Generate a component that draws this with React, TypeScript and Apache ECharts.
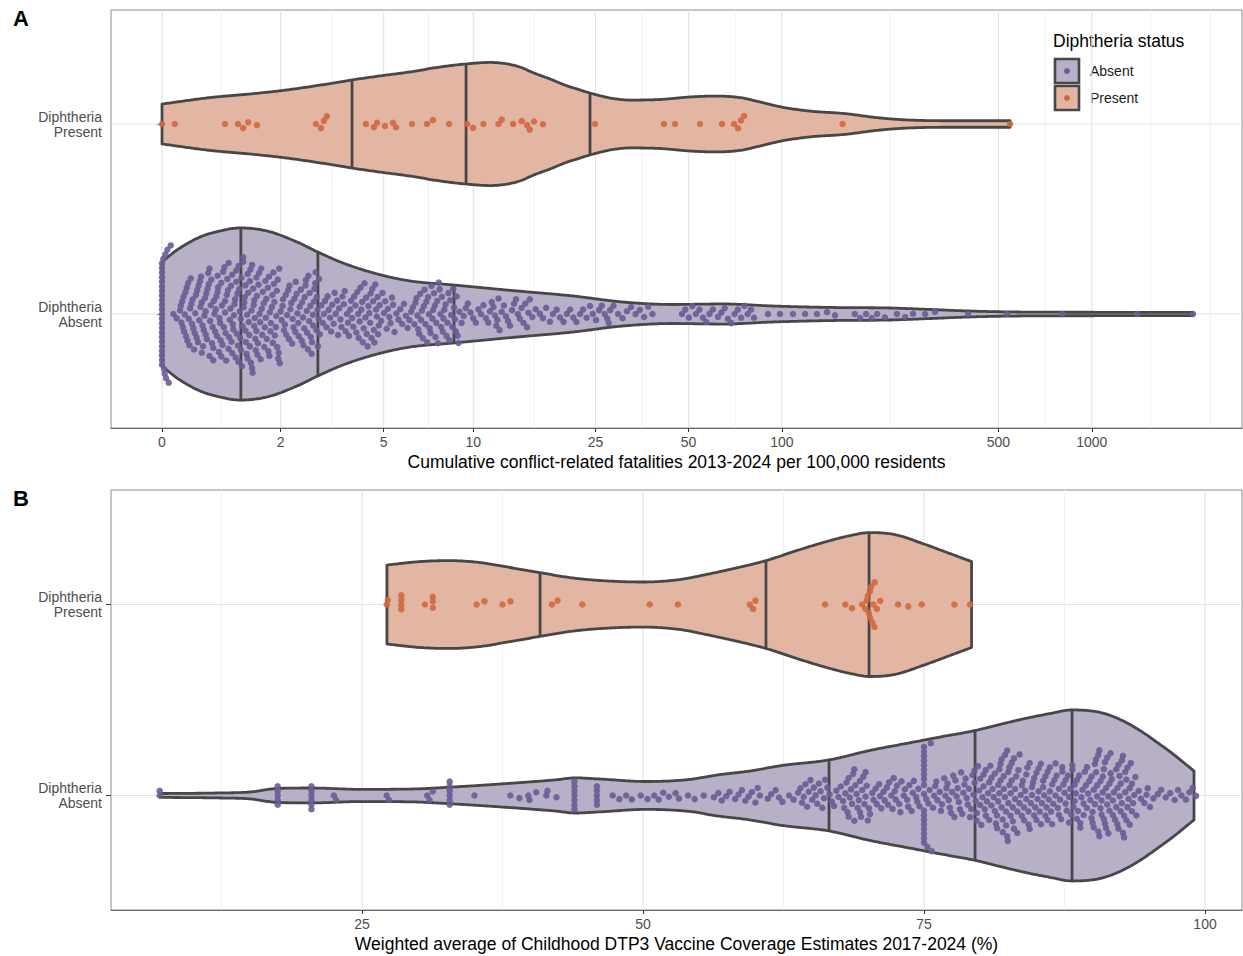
import React, { useEffect, useRef } from "react";
import * as echarts from "echarts";

const FONT = '"Liberation Sans", Arial, Helvetica, sans-serif';

// ---------- axes ----------
const breaksA = [0, 2, 5, 10, 25, 50, 100, 500, 1000];
const breaksB = [25, 50, 75, 100];
const minorB = [12.5, 37.5, 62.5, 87.5];
const categoryLevels = [1, 2];
const categoryLabels = ["Diphtheria\nAbsent", "Diphtheria\nPresent"];
const limitsA = [-0.379, 8.024]; // pseudo-log units asinh(x/2)
const limitsB = [2.67, 103.29];
const limitsY = [0.4, 2.6];
const titleA = "Cumulative conflict-related fatalities 2013-2024 per 100,000 residents";
const titleB = "Weighted average of Childhood DTP3 Vaccine Coverage Estimates 2017-2024 (%)";
const legendTitle = "Diphtheria status";
const legendLabels = ["Absent", "Present"];

// ---------- violin outlines (position, half width in category units) ----------
const presentA_x = [0, 0.728, 1.4, 2.03, 2.94, 3.86, 4.85, 6.15, 7.76, 9.47, 11.35, 12.7, 14.2, 15.8, 17.8, 19.9, 22.3, 24.0, 27.9, 32.3, 40.4, 50.5, 60.4, 73.3, 85.0, 100, 123, 159, 207, 265, 376, 545];
const presentA_w = [0.105, 0.139, 0.158, 0.176, 0.205, 0.232, 0.253, 0.274, 0.3, 0.316, 0.324, 0.318, 0.3, 0.268, 0.237, 0.205, 0.179, 0.163, 0.137, 0.126, 0.129, 0.142, 0.147, 0.139, 0.116, 0.089, 0.068, 0.055, 0.032, 0.02, 0.017, 0.017];
const presentA_q = [3.86, 9.47, 24.0];

const absentA_x = [0, 0.223, 0.572, 0.889, 1.225, 1.72, 2.36, 2.87, 3.58, 4.74, 6.15, 8.57, 12.9, 21.1, 30.7, 44.5, 64.6, 93.6, 151, 218, 300, 396, 545, 1063, 2120];
const absentA_w = [0.274, 0.337, 0.405, 0.437, 0.453, 0.437, 0.379, 0.326, 0.268, 0.211, 0.174, 0.153, 0.126, 0.095, 0.063, 0.05, 0.053, 0.042, 0.034, 0.032, 0.024, 0.016, 0.011, 0.009, 0.008];
const absentA_q = [1.24, 2.87, 8.64];

const presentB_x = [27.22, 30.16, 32.74, 35.5, 38.17, 40.75, 43.51, 46.17, 50.0, 53.29, 55.6, 58.63, 60.94, 63.96, 66.64, 68.42, 70.2, 72.42, 74.91, 77.31, 79.23];
const presentB_w = [0.207, 0.225, 0.23, 0.22, 0.194, 0.168, 0.141, 0.126, 0.118, 0.131, 0.157, 0.196, 0.23, 0.288, 0.335, 0.361, 0.377, 0.366, 0.319, 0.267, 0.225];
const presentB_q = [40.84, 60.94, 70.11];

const absentB_x = [7.03, 12.1, 15.04, 17.53, 20.55, 24.82, 29.63, 32.74, 37.54, 42.26, 43.95, 46.17, 50.27, 54.18, 56.58, 59.52, 62.37, 66.55, 70.2, 73.67, 76.42, 79.54, 81.76, 83.99, 86.21, 88.17, 90.66, 92.44, 94.22, 96.0, 96.98, 99.02];
const absentB_w = [0.01, 0.013, 0.018, 0.037, 0.039, 0.032, 0.034, 0.043, 0.061, 0.082, 0.092, 0.086, 0.073, 0.084, 0.107, 0.128, 0.157, 0.186, 0.236, 0.275, 0.306, 0.34, 0.372, 0.403, 0.429, 0.448, 0.435, 0.398, 0.34, 0.267, 0.225, 0.128];
const absentB_q = [66.55, 79.54, 88.17];

// ---------- points ----------
const presentA = [0, 0.19, 0.97, 1.19, 1.28, 1.37, 1.53, 2.82, 2.95, 3.03, 3.11, 4.33, 4.62, 4.74, 5.05, 5.38, 5.51, 6.25, 7.02, 7.35, 8.32, 9.54, 9.98, 10.8, 12.1, 12.4, 13.5, 14.4, 15.0, 15.3, 15.8, 16.9, 24.9, 41.6, 45.2, 54.4, 64.1, 70.1, 72.2, 73.8, 75.5, 157, 545];

const absentA = [
  0, 0, 0, 0, 0, 0, 0, 0, 0, 0, 0, 0, 0, 0, 0, 0, 0, 0, 0, 0, 0, 0, 0,
  0.02, 0.03, 0.04, 0.05, 0.06, 0.08, 0.1, 0.13, 0.17, 0.22,
  0.27, 0.28, 0.29, 0.3, 0.31, 0.32, 0.33, 0.34, 0.35, 0.36, 0.37, 0.38, 0.39, 0.4, 0.41, 0.42, 0.43, 0.44, 0.45, 0.46, 0.47, 0.48, 0.49, 0.5, 0.51, 0.52, 0.53, 0.54, 0.55, 0.56, 0.57,
  0.58, 0.59, 0.6, 0.6, 0.61, 0.62, 0.63, 0.64, 0.65, 0.66, 0.66, 0.67, 0.68, 0.69, 0.7, 0.71, 0.72, 0.72, 0.73, 0.74, 0.75, 0.76, 0.77, 0.78, 0.78, 0.79, 0.8, 0.81,
  0.82, 0.83, 0.84, 0.85, 0.85, 0.86, 0.87, 0.88, 0.89, 0.9, 0.91, 0.91, 0.92, 0.93, 0.94, 0.95, 0.96, 0.97, 0.97, 0.98, 0.99, 1, 1.01, 1.02, 1.03, 1.03, 1.04, 1.05, 1.06, 1.07, 1.08, 1.09, 1.09, 1.1, 1.11, 1.12, 1.13, 1.14,
  1.15, 1.16, 1.16, 1.17, 1.18, 1.19, 1.2, 1.2, 1.21, 1.22, 1.23, 1.24, 1.24, 1.25, 1.26, 1.27, 1.28, 1.28, 1.29, 1.3, 1.31, 1.32, 1.32, 1.33, 1.34, 1.35, 1.36, 1.36, 1.37, 1.38, 1.39, 1.4, 1.4, 1.41, 1.42, 1.43, 1.44, 1.44, 1.45, 1.46, 1.47, 1.48, 1.48, 1.49, 1.5, 1.51, 1.52, 1.52, 1.53, 1.54, 1.55, 1.56, 1.57, 1.58, 1.59,
  1.6, 1.61, 1.62, 1.63, 1.64, 1.66, 1.67, 1.68, 1.69, 1.7, 1.71, 1.72, 1.74, 1.75, 1.76, 1.77, 1.78, 1.79, 1.8, 1.82, 1.83, 1.84, 1.85, 1.86, 1.87, 1.88, 1.9, 1.91, 1.92, 1.93, 1.94, 1.95, 1.96, 1.97, 1.98,
  2.0, 2.02, 2.04, 2.05, 2.07, 2.09, 2.11, 2.12, 2.14, 2.16, 2.18, 2.19, 2.21, 2.23, 2.25, 2.26, 2.28, 2.3, 2.32, 2.33, 2.35, 2.37, 2.39, 2.4, 2.42,
  2.45, 2.47, 2.48, 2.5, 2.51, 2.53, 2.54, 2.56, 2.57, 2.59, 2.6, 2.62, 2.63, 2.65, 2.66, 2.68, 2.69, 2.71, 2.72, 2.74, 2.75, 2.77, 2.78, 2.8, 2.81, 2.83, 2.84, 2.86, 2.87, 2.89, 2.9, 2.92,
  2.96, 3.0, 3.03, 3.06, 3.1, 3.13, 3.16, 3.2, 3.23, 3.26, 3.3, 3.33, 3.36, 3.4, 3.43, 3.46, 3.5, 3.53, 3.56, 3.6, 3.63, 3.66, 3.7, 3.73, 3.76, 3.8, 3.83, 3.86, 3.9, 3.93,
  3.97, 4.0, 4.03, 4.06, 4.08, 4.11, 4.14, 4.17, 4.2, 4.22, 4.25, 4.28, 4.31, 4.34, 4.36, 4.39, 4.42, 4.45, 4.48, 4.5, 4.53, 4.56, 4.59, 4.62, 4.64, 4.67, 4.7, 4.73, 4.76, 4.78, 4.81, 4.84,
  4.9, 4.95, 5.01, 5.06, 5.12, 5.17, 5.23, 5.28, 5.34, 5.39, 5.45,
  5.53, 5.62, 5.7, 5.79, 5.87, 5.96, 6.04, 6.13, 6.21, 6.29, 6.37,
  6.42, 6.47, 6.52, 6.56, 6.61, 6.66, 6.7, 6.75, 6.8, 6.85, 6.89, 6.94, 6.99, 7.03, 7.08, 7.13, 7.17, 7.22, 7.27, 7.32, 7.36, 7.41, 7.46, 7.5, 7.55, 7.6, 7.64, 7.69, 7.74, 7.79, 7.83, 7.88, 7.93, 7.97, 8.02,
  8.1, 8.16, 8.22, 8.28, 8.34, 8.4, 8.46, 8.52, 8.58, 8.64, 8.7, 8.76, 8.82, 8.88, 8.94, 9.0,
  9.15, 9.3, 9.45, 9.6, 9.8, 10.0, 10.2, 10.4, 10.6, 10.8, 11.0, 11.2, 11.35, 11.5, 11.65, 11.8, 11.9, 12.0, 12.1, 12.2,
  12.4, 12.6, 12.8, 13.0, 13.2, 13.4, 13.6, 13.8, 14.0, 14.2, 14.4, 14.6, 14.8, 15.0, 15.15, 15.3,
  15.6, 16.0, 16.5, 16.9, 17.3, 17.8, 18.2, 18.7, 19.2, 19.7, 20.2, 20.7, 21.2, 21.7, 22.3, 22.8, 23.4, 24.0, 24.5, 25.1, 25.7, 26.2, 26.8, 27.3, 27.6, 27.9,
  28.6, 29.6, 30.6, 31.6, 32.6, 33.7, 34.8, 35.9, 37.0, 38.2,
  47.6, 48.8, 50.1, 51.4, 52.8, 54.2, 55.6, 57.0, 58.4, 59.9,
  62.2, 63.8, 65.4, 67.0, 68.7, 70.4, 72.1, 73.9, 75.7, 77.6, 79.5, 81.3,
  90.2, 98.6, 108.6, 118.8, 129.8, 139.9, 148.4,
  172, 179, 187, 195, 203, 215, 235, 250, 265, 290, 312, 399,
  533, 802, 1400, 2120,
];

const presentB = [27.2, 27.3, 28.5, 28.5, 28.5, 28.5, 30.6, 31.3, 31.3, 31.3, 35.2, 35.9, 37.5, 38.2, 41.9, 42.4, 44.6, 50.6, 53.1, 59.5, 59.8, 60.0, 66.2, 68.0, 68.6, 69.5, 69.8, 69.9, 70.0, 70.1, 70.2, 70.2, 70.3, 70.4, 70.5, 70.6, 70.6, 70.8, 71.1, 72.7, 73.6, 74.8, 77.7, 79.1];

const absentB = [
  7.0, 7.0,
  17.5, 17.5, 17.5, 17.5, 17.5,
  20.5, 20.5, 20.5, 20.5, 20.5, 20.5,
  22.5, 22.7, 27.2, 27.4, 30.8, 31.0, 31.3,
  32.8, 32.8, 32.8, 32.8, 32.8, 32.8,
  35.0,
  38.2, 39.0, 39.8, 39.9, 40.5, 41.4, 41.5, 42.3,
  43.9, 43.9, 43.9, 43.9, 43.9, 43.9, 43.9,
  45.9, 45.9, 45.9, 45.9, 45.9,
  47.3, 47.9, 48.5, 49.0, 49.8, 50.4, 51.0, 51.4,
  51.8, 52.3, 52.9, 53.2, 54.0, 54.6, 55.4,
  56.3, 56.7, 57.0, 57.4, 57.7,
  58.2, 58.5, 58.8, 59.1, 59.4, 59.7, 60.0, 60.2, 60.4,
  61.1, 61.4, 61.8, 62.1, 62.4, 63.0, 63.4, 63.8,
  64.0, 64.15, 64.3, 64.45, 64.6, 64.75, 64.9, 65.05, 65.2, 65.35, 65.5, 65.65, 65.8, 65.95, 66.1, 66.2,
  66.4, 66.6, 66.8, 67.0, 67.2, 67.4, 67.6, 67.8, 67.9,
  68.0, 68.1, 68.2, 68.3, 68.3, 68.4, 68.5, 68.6, 68.7, 68.8, 68.8, 68.9, 69.0, 69.1, 69.2, 69.3, 69.3, 69.4, 69.5, 69.6, 69.7, 69.8, 69.8, 69.9, 70.0, 70.1, 70.2,
  70.4, 70.5, 70.7, 70.8, 71.0, 71.1, 71.2, 71.4, 71.5, 71.7, 71.8, 71.9, 72.1, 72.2, 72.3, 72.4,
  72.5, 72.6, 72.8, 72.9, 73.0, 73.2, 73.3, 73.5, 73.6, 73.7, 73.9, 74.0, 74.1, 74.3, 74.4, 74.5, 74.6,
  75.0, 75.0, 75.0, 75.0, 75.0, 75.0, 75.0, 75.0, 75.0, 75.0, 75.0, 75.0, 75.0, 75.0, 75.0, 75.0, 75.0, 75.0,
  75.2, 75.3, 75.4, 75.5, 75.6, 75.7, 75.8, 75.9, 76.0, 76.1, 76.2, 76.4, 76.5, 76.6, 76.8, 76.9,
  77.0, 77.1, 77.2, 77.3, 77.4, 77.5, 77.6, 77.7, 77.8, 77.9, 78.0, 78.1, 78.2, 78.3, 78.4, 78.5, 78.6, 78.7, 78.8, 78.9, 79.0, 79.1, 79.2, 79.3, 79.4, 79.5, 79.5,
  79.6, 79.7, 79.7, 79.8, 79.9, 80.0, 80.0, 80.1, 80.2, 80.3, 80.3, 80.4, 80.5, 80.5, 80.6, 80.7, 80.8, 80.8, 80.9, 81.0, 81.0, 81.1, 81.2, 81.3, 81.3, 81.4, 81.5, 81.5, 81.6, 81.6, 81.7, 81.7, 81.8, 81.8,
  81.9, 81.9, 82.0, 82.0, 82.1, 82.1, 82.2, 82.2, 82.3, 82.3, 82.4, 82.4, 82.45, 82.5, 82.5, 82.6, 82.6, 82.7, 82.7, 82.8, 82.8, 82.9, 82.9, 83.0, 83.0, 83.1, 83.1,
  83.2, 83.3, 83.3, 83.4, 83.5, 83.5, 83.6, 83.7, 83.7, 83.8, 83.9, 83.9, 84.0, 84.1, 84.1, 84.2, 84.3, 84.3, 84.4, 84.4,
  84.5, 84.6, 84.6, 84.7, 84.8, 84.8, 84.9, 85.0, 85.0, 85.1, 85.2, 85.2, 85.3, 85.4, 85.4, 85.5, 85.6, 85.6, 85.7, 85.8, 85.8, 85.9, 86.0, 86.0, 86.1, 86.2, 86.2,
  86.3, 86.4, 86.4, 86.5, 86.6, 86.7, 86.7, 86.8, 86.9, 87.0, 87.0, 87.1, 87.2, 87.3, 87.3, 87.4, 87.5, 87.6, 87.6, 87.7, 87.8, 87.9, 87.9, 88.0, 88.1, 88.2, 88.2, 88.3, 88.4, 88.4,
  88.5, 88.6, 88.6, 88.7, 88.8, 88.9, 88.9, 89.0, 89.1, 89.2, 89.2, 89.3, 89.4, 89.5, 89.5, 89.6, 89.7, 89.8,
  89.9, 89.9, 90.0, 90.0, 90.1, 90.1, 90.2, 90.2, 90.3, 90.3, 90.4, 90.4, 90.5, 90.5, 90.6, 90.6, 90.7, 90.7,
  90.8, 90.8, 90.9, 90.9, 91.0, 91.0, 91.1, 91.1, 91.2, 91.2, 91.3, 91.3, 91.4, 91.4, 91.5, 91.5, 91.6, 91.6, 91.7, 91.8, 91.8, 91.9, 92.0,
  92.1, 92.1, 92.2, 92.2, 92.3, 92.3, 92.4, 92.4, 92.5, 92.5, 92.6, 92.6, 92.7, 92.7, 92.8, 92.8, 92.9, 92.9, 93.0, 93.0, 93.1, 93.1, 93.2, 93.3, 93.3, 93.4, 93.5, 93.5, 93.6, 93.7, 93.8,
  93.9, 94.1, 94.3, 94.6, 94.8, 94.9, 95.1,
  95.4, 95.8, 96.1, 96.5, 96.9, 97.3, 97.6, 97.9, 98.3, 98.6, 98.9, 99.2,
];

// ---------- styling ----------
const PRESENT_FILL = "#E3B6A3";
const PRESENT_DOT = "#D0683D";
const ABSENT_FILL = "#B7B0C7";
const ABSENT_DOT = "#6C5B96";
const OUTLINE = "#474747";
const GRID_LEFT = 111;
const GRID_W = 1131;
const GA_TOP = 10, GA_H = 418;
const GB_TOP = 490, GB_H = 420;
const SWARM_AX = 11; // horizontal collision distance (px)
const SWARM_AY = 4.6; // vertical spacing (px)

const tf = (v: number) => Math.asinh(v / 2);
const idf = (v: number) => v;

// beeswarm layout: points in ascending order, each placed as close to the centre as possible
function swarm(xsPx: number[]): number[] {
  const d = SWARM_AY;
  const xs = xsPx.map((x) => (x * SWARM_AY) / SWARM_AX);
  const order = xs.map((_, i) => i).sort((a, b) => xs[a] - xs[b]);
  const out = new Array(xs.length).fill(0);
  const placed: { x: number; y: number }[] = [];
  let start = 0;
  let flip = 1;
  for (const i of order) {
    const x = xs[i];
    while (start < placed.length && x - placed[start].x >= d) start++;
    const near = placed.slice(start);
    const cands = [0];
    for (const p of near) {
      const dx = x - p.x;
      const dy = Math.sqrt(Math.max(0, d * d - dx * dx));
      cands.push(p.y + dy, p.y - dy);
    }
    cands.sort((a, b) => Math.abs(a) - Math.abs(b) || (a - b) * flip);
    let best = 0;
    for (const c of cands) {
      let ok = true;
      for (const p of near) {
        const dx = x - p.x, dy = c - p.y;
        if (dx * dx + dy * dy < d * d - 1e-6) { ok = false; break; }
      }
      if (ok) { best = c; break; }
    }
    out[i] = best;
    placed.push({ x, y: best });
    flip = -flip;
  }
  return out;
}

function swarmData(vals: number[], fx: (v: number) => number, lim: number[], center: number, gridH: number) {
  const px = vals.map((v) => ((fx(v) - lim[0]) / (lim[1] - lim[0])) * GRID_W);
  const offs = swarm(px);
  const pxPerUnit = gridH / (limitsY[1] - limitsY[0]);
  return vals.map((v, i) => [fx(v), center + offs[i] / pxPerUnit]);
}

// smooth (monotone cubic) curve through the read outline points, in pixel space
function monotone(xs: number[], ys: number[]) {
  const n = xs.length;
  const d: number[] = [];
  const m: number[] = new Array(n).fill(0);
  for (let i = 0; i < n - 1; i++) d.push((ys[i + 1] - ys[i]) / (xs[i + 1] - xs[i]));
  m[0] = d[0];
  m[n - 1] = d[n - 2];
  for (let i = 1; i < n - 1; i++) m[i] = d[i - 1] * d[i] <= 0 ? 0 : (d[i - 1] + d[i]) / 2;
  for (let i = 0; i < n - 1; i++) {
    if (d[i] === 0) { m[i] = 0; m[i + 1] = 0; continue; }
    const a = m[i] / d[i], b = m[i + 1] / d[i];
    const s = a * a + b * b;
    if (s > 9) { const t = 3 / Math.sqrt(s); m[i] = t * a * d[i]; m[i + 1] = t * b * d[i]; }
  }
  return (x: number) => {
    let i = 0;
    while (i < n - 2 && x > xs[i + 1]) i++;
    const h = xs[i + 1] - xs[i];
    const t = Math.min(1, Math.max(0, (x - xs[i]) / h));
    const t2 = t * t, t3 = t2 * t;
    return (2 * t3 - 3 * t2 + 1) * ys[i] + (t3 - 2 * t2 + t) * h * m[i] + (-2 * t3 + 3 * t2) * ys[i + 1] + (t3 - t2) * h * m[i + 1];
  };
}

function gridSeries(idx: number, items: number[][], xRef: number) {
  return {
    type: "custom", xAxisIndex: idx, yAxisIndex: idx, silent: true, z: 1, clip: false,
    data: items,
    renderItem: (params: any, api: any) => {
      const cs = params.coordSys;
      const pos = api.value(0);
      const major = api.value(1) === 1;
      const horiz = api.value(2) === 1;
      const style = { stroke: major ? "#e3e3e3" : "#efefef", lineWidth: major ? 1.1 : 0.8 };
      if (horiz) {
        const y = api.coord([xRef, pos])[1];
        return { type: "line", shape: { x1: cs.x, y1: y, x2: cs.x + cs.width, y2: y }, style };
      }
      const x = api.coord([pos, 1.5])[0];
      return { type: "line", shape: { x1: x, y1: cs.y, x2: x, y2: cs.y + cs.height }, style };
    },
  };
}

function violinSeries(idx: number, violins: any[], fx: (v: number) => number) {
  return {
    type: "custom", xAxisIndex: idx, yAxisIndex: idx, silent: true, z: 2, clip: false,
    data: violins.map((v, i) => [i, v.center]),
    renderItem: (params: any, api: any) => {
      const v = violins[params.dataIndex];
      const c0 = api.coord([fx(v.xs[0]), v.center]);
      const cy = c0[1];
      const X = v.xs.map((x: number) => api.coord([fx(x), v.center])[0]);
      const Hh = v.ws.map((w: number, i: number) => Math.abs(api.coord([fx(v.xs[i]), v.center + w])[1] - cy));
      const f = monotone(X, Hh);
      const samples: number[] = [];
      for (let x = X[0]; x < X[X.length - 1]; x += 1.5) samples.push(x);
      samples.push(X[X.length - 1]);
      const top = samples.map((x) => [x, cy - f(x)]);
      const bot = samples.map((x) => [x, cy + f(x)]).reverse();
      const children: any[] = [
        { type: "polygon", shape: { points: top.concat(bot) }, style: { fill: v.fill, stroke: OUTLINE, lineWidth: 2.8, lineJoin: "round" } },
      ];
      v.qs.forEach((q: number) => {
        const xq = api.coord([fx(q), v.center])[0];
        const h = f(xq);
        children.push({ type: "line", shape: { x1: xq, y1: cy - h, x2: xq, y2: cy + h }, style: { stroke: OUTLINE, lineWidth: 2.8 } });
      });
      return { type: "group", children };
    },
  };
}

function scatterSeries(idx: number, data: number[][], color: string) {
  return {
    type: "scatter", xAxisIndex: idx, yAxisIndex: idx, silent: true, z: 3,
    symbol: "circle", symbolSize: 6.5, data,
    itemStyle: { color, opacity: 0.9 },
  };
}

function buildOption() {
  const tMaj = breaksA.map(tf);
  const minorA: number[] = [];
  for (let i = 0; i < tMaj.length - 1; i++) minorA.push((tMaj[i] + tMaj[i + 1]) / 2);
  const bd = tMaj[1] - tMaj[0];
  const ext = tMaj[tMaj.length - 1] + bd;
  minorA.push((tMaj[tMaj.length - 1] + ext) / 2, ext);

  const gridItemsA = [
    ...minorA.map((t) => [t, 0, 0]),
    ...tMaj.map((t) => [t, 1, 0]),
    ...categoryLevels.map((c) => [c, 1, 1]),
  ];
  const gridItemsB = [
    ...minorB.map((t) => [t, 0, 0]),
    ...breaksB.map((t) => [t, 1, 0]),
    ...categoryLevels.map((c) => [c, 1, 1]),
  ];

  const violinsA = [
    { center: 1, xs: absentA_x, ws: absentA_w, qs: absentA_q, fill: ABSENT_FILL },
    { center: 2, xs: presentA_x, ws: presentA_w, qs: presentA_q, fill: PRESENT_FILL },
  ];
  const violinsB = [
    { center: 1, xs: absentB_x, ws: absentB_w, qs: absentB_q, fill: ABSENT_FILL },
    { center: 2, xs: presentB_x, ws: presentB_w, qs: presentB_q, fill: PRESENT_FILL },
  ];

  const labelStyle = { color: "#4d4d4d", fontSize: 14, fontFamily: FONT };
  const nameStyle = { color: "#000", fontSize: 17.5, fontFamily: FONT };

  const xAxisCommon = (idx: number, lim: number[], ticks: number[], labels: string[], name: string) => ({
    gridIndex: idx, type: "value", min: lim[0], max: lim[1],
    axisLine: { show: true, onZero: false, lineStyle: { color: "#6a6a6a", width: 1.2 } },
    axisTick: { show: true, customValues: ticks, length: 4, lineStyle: { color: "#333" } },
    axisLabel: {
      ...labelStyle, margin: 7, customValues: ticks,
      formatter: (val: number) => {
        const i = ticks.findIndex((t) => Math.abs(t - val) < 1e-6);
        return i >= 0 ? labels[i] : "";
      },
    },
    splitLine: { show: false },
    name, nameLocation: "middle", nameGap: 25, nameTextStyle: nameStyle,
  });

  const yAxisCommon = (idx: number) => ({
    gridIndex: idx, type: "value", min: limitsY[0], max: limitsY[1],
    axisLine: { show: false },
    axisTick: { show: true, customValues: categoryLevels, length: 5, lineStyle: { color: "#333" } },
    axisLabel: {
      ...labelStyle, lineHeight: 15, margin: 9, align: "right", customValues: categoryLevels,
      formatter: (val: number) => categoryLabels[Math.round(val) - 1] || "",
    },
    splitLine: { show: false },
  });

  const legendEls: any[] = [
    { type: "text", x: 1053, y: 41, style: { text: legendTitle, fill: "#000", fontSize: 17.5, fontFamily: FONT, verticalAlign: "middle", align: "left" } },
  ];
  [ABSENT_FILL, PRESENT_FILL].forEach((fill, i) => {
    const y0 = 59 + i * 27;
    legendEls.push({ type: "rect", shape: { x: 1055, y: y0, width: 24, height: 24 }, style: { fill, stroke: OUTLINE, lineWidth: 2.6 } });
    legendEls.push({ type: "circle", shape: { cx: 1067, cy: y0 + 12, r: 3 }, style: { fill: i === 0 ? ABSENT_DOT : PRESENT_DOT } });
    legendEls.push({ type: "text", x: 1090, y: y0 + 12, style: { text: legendLabels[i], fill: "#1a1a1a", fontSize: 14, fontFamily: FONT, verticalAlign: "middle", align: "left" } });
  });
  legendEls.push({ type: "text", x: 13, y: 18, style: { text: "A", fill: "#000", fontSize: 22, fontWeight: "bold", fontFamily: FONT, verticalAlign: "middle", align: "left" } });
  legendEls.push({ type: "text", x: 13, y: 498, style: { text: "B", fill: "#000", fontSize: 22, fontWeight: "bold", fontFamily: FONT, verticalAlign: "middle", align: "left" } });

  return {
    animation: false,
    backgroundColor: "#ffffff",
    grid: [
      { left: GRID_LEFT, top: GA_TOP, width: GRID_W, height: GA_H, show: true, borderColor: "#8c8c8c", borderWidth: 1, backgroundColor: "transparent", containLabel: false, outerBoundsMode: "none" },
      { left: GRID_LEFT, top: GB_TOP, width: GRID_W, height: GB_H, show: true, borderColor: "#8c8c8c", borderWidth: 1, backgroundColor: "transparent", containLabel: false, outerBoundsMode: "none" },
    ],
    xAxis: [
      xAxisCommon(0, limitsA, tMaj, breaksA.map(String), titleA),
      xAxisCommon(1, limitsB, breaksB, breaksB.map(String), titleB),
    ],
    yAxis: [yAxisCommon(0), yAxisCommon(1)],
    series: [
      gridSeries(0, gridItemsA, 1),
      gridSeries(1, gridItemsB, 50),
      violinSeries(0, violinsA, tf),
      violinSeries(1, violinsB, idf),
      scatterSeries(0, swarmData(absentA, tf, limitsA, 1, GA_H), ABSENT_DOT),
      scatterSeries(0, swarmData(presentA, tf, limitsA, 2, GA_H), PRESENT_DOT),
      scatterSeries(1, swarmData(absentB, idf, limitsB, 1, GB_H), ABSENT_DOT),
      scatterSeries(1, swarmData(presentB, idf, limitsB, 2, GB_H), PRESENT_DOT),
    ],
    graphic: { elements: legendEls },
  };
}

export default function App() {
  const ref = useRef<HTMLDivElement>(null);
  useEffect(() => {
    document.body.style.margin = "0";
    if (!ref.current) return;
    const chart = echarts.init(ref.current, null, { renderer: "svg" });
    chart.setOption(buildOption() as any);
    return () => chart.dispose();
  }, []);
  return <div ref={ref} style={{ position: "fixed", left: 0, top: 0, width: 1243, height: 956, background: "#fff" }} />;
}
